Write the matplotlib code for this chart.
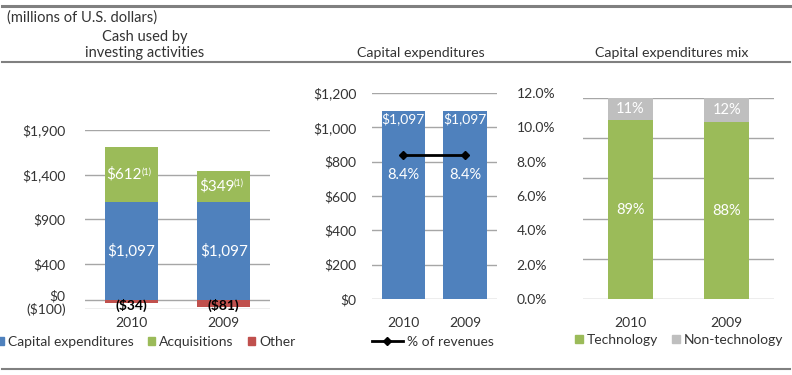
import matplotlib
matplotlib.use("Agg")
import matplotlib.pyplot as plt
from matplotlib.patches import Patch
from matplotlib.lines import Line2D

plt.rcParams['font.family'] = ['Lato', 'DejaVu Sans']

years = ["2010", "2009"]
capex = [1097, 1097]
acquisitions = [612, 349]
other = [-34, -81]
pct_revenues = [8.4, 8.4]
tech_mix = [89, 88]
nontech_mix = [11, 12]

BLUE = "#4F81BD"
GREEN = "#9BBB59"
RED = "#C0504D"
GRAY = "#BFBFBF"
GRID = "#A6A6A6"
TXT = "#333333"

W, H = 792, 375
fig = plt.figure(figsize=(W / 100, H / 100), dpi=100)


def add_ax(x0, x1, ytop, ybot):
    return fig.add_axes([x0 / W, 1 - ybot / H, (x1 - x0) / W, (ybot - ytop) / H])


def style(ax):
    for s in ax.spines.values():
        s.set_visible(False)
    ax.tick_params(length=0, colors=TXT, labelsize=10)
    ax.yaxis.grid(True, color=GRID, lw=1)
    ax.set_axisbelow(True)


xs = [0, 1]

# ---- Left panel ----
ax1 = add_ax(85, 270, 130, 309)
style(ax1)
ax1.bar(xs, capex, width=0.57, color=BLUE)
ax1.bar(xs, acquisitions, width=0.57, bottom=capex, color=GREEN)
ax1.bar(xs, other, width=0.57, color=RED)
ax1.set_ylim(-100, 1900)
ax1.set_xlim(-0.5, 1.5)
ax1.set_yticks([-100, 0, 400, 900, 1400, 1900])
ax1.set_yticklabels(["($100)", "$0", "$400", "$900", "$1,400", "$1,900"])
ax1.tick_params(axis='y', pad=14)
ax1.get_yticklabels()[1].set_va('baseline')
ax1.set_xticks(xs)
ax1.set_xticklabels(years)
ax1.tick_params(axis='x', pad=6)
for i in xs:
    ax1.text(i, capex[i] / 2, f"${capex[i]:,}", ha='center', va='center', color='white', fontsize=11)
    ax1.annotate(f"${acquisitions[i]:,}", (i, capex[i] + acquisitions[i] / 2), xytext=(-5, 0),
                 textcoords='offset points', ha='center', va='center', color='white', fontsize=11)
    ax1.annotate("(1)", (i, capex[i] + acquisitions[i] / 2), xytext=(11, 2), textcoords='offset points',
                 ha='center', va='center', color='white', fontsize=6.5)
    ax1.text(i, -55, f"(${-other[i]})", ha='center', va='center', color='black', fontsize=10,
             fontweight='bold')
fig.legend(handles=[Patch(color=BLUE, label="Capital expenditures"),
                    Patch(color=GREEN, label="Acquisitions"),
                    Patch(color=RED, label="Other")],
           loc='center', bbox_to_anchor=(146 / W, 1 - 342 / H), ncol=3, frameon=False,
           handlelength=0.55, handleheight=0.55, handletextpad=0.3, columnspacing=1.0,
           fontsize=10, labelcolor=TXT)

# ---- Middle panel ----
ax2 = add_ax(372, 497, 93, 299)
style(ax2)
ax2.bar(xs, capex, width=0.70, color=BLUE)
ax2.set_ylim(0, 1200)
ax2.set_xlim(-0.51, 1.52)
ax2.set_yticks(range(0, 1201, 200))
ax2.set_yticklabels([f"${v:,}" for v in range(0, 1201, 200)])
ax2.tick_params(axis='y', pad=11)
ax2.set_xticks(xs)
ax2.set_xticklabels(years)
ax2.tick_params(axis='x', pad=13)
ax2r = ax2.twinx()
for s in ax2r.spines.values():
    s.set_visible(False)
ax2r.set_ylim(0, 12)
ax2r.set_yticks(range(0, 13, 2))
ax2r.set_yticklabels([f"{v:.1f}%" for v in range(0, 13, 2)])
ax2r.tick_params(length=0, colors=TXT, labelsize=10, pad=14)
ax2r.plot(xs, pct_revenues, color='black', lw=2, marker='D', ms=4)
for i in xs:
    ax2.text(i, 1050, f"${capex[i]:,}", ha='center', va='center', color='white', fontsize=10)
    ax2.text(i, 722, f"{pct_revenues[i]}%", ha='center', va='center', color='white', fontsize=10.5)
fig.legend(handles=[Line2D([], [], color='black', lw=2, marker='D', ms=4, label="% of revenues")],
           loc='center', bbox_to_anchor=(433 / W, 1 - 342 / H), frameon=False,
           handlelength=2.2, handletextpad=0.3, fontsize=10, labelcolor=TXT)

# ---- Right panel ----
ax3 = add_ax(583, 774, 98, 299)
style(ax3)
ax3.bar(xs, tech_mix, width=0.47, color=GREEN)
ax3.bar(xs, nontech_mix, width=0.47, bottom=tech_mix, color=GRAY)
ax3.set_ylim(0, 100)
ax3.set_xlim(-0.49, 1.49)
ax3.set_yticks(range(0, 101, 20))
ax3.set_yticklabels([])
ax3.set_xticks(xs)
ax3.set_xticklabels(years)
ax3.tick_params(axis='x', pad=13)
for i in xs:
    ax3.text(i, tech_mix[i] / 2, f"{tech_mix[i]}%", ha='center', va='center', color='white', fontsize=10.5)
    ax3.text(i, tech_mix[i] + nontech_mix[i] / 2, f"{nontech_mix[i]}%", ha='center', va='center',
             color='white', fontsize=10.5)
fig.legend(handles=[Patch(color=GREEN, label="Technology"),
                    Patch(color=GRAY, label="Non-technology")],
           loc='center', bbox_to_anchor=(679 / W, 1 - 340 / H), ncol=2, frameon=False,
           handlelength=0.55, handleheight=0.55, handletextpad=0.3, columnspacing=1.0,
           fontsize=10, labelcolor=TXT)

# ---- Header texts and rules ----
fig.text(7 / W, 1 - 18 / H, "(millions of U.S. dollars)", ha='left', va='center', fontsize=10.5, color=TXT)
fig.text(145 / W, 1 - 37 / H, "Cash used by", ha='center', va='center', fontsize=10.5, color=TXT)
fig.text(145 / W, 1 - 53 / H, "investing activities", ha='center', va='center', fontsize=10.5, color=TXT)
fig.text(421 / W, 1 - 53 / H, "Capital expenditures", ha='center', va='center', fontsize=10.2, color=TXT)
fig.text(672 / W, 1 - 53 / H, "Capital expenditures mix", ha='center', va='center', fontsize=10.2, color=TXT)

fig.add_artist(Line2D([2 / W, 790 / W], [1 - 6 / H, 1 - 6 / H], color="#808080", lw=2.2))
fig.add_artist(Line2D([2 / W, 790 / W], [1 - 62 / H, 1 - 62 / H], color="#808080", lw=1.5))
fig.add_artist(Line2D([2 / W, 790 / W], [1 - 369 / H, 1 - 369 / H], color="#808080", lw=1.5))

fig.savefig("out.png", dpi=100)
